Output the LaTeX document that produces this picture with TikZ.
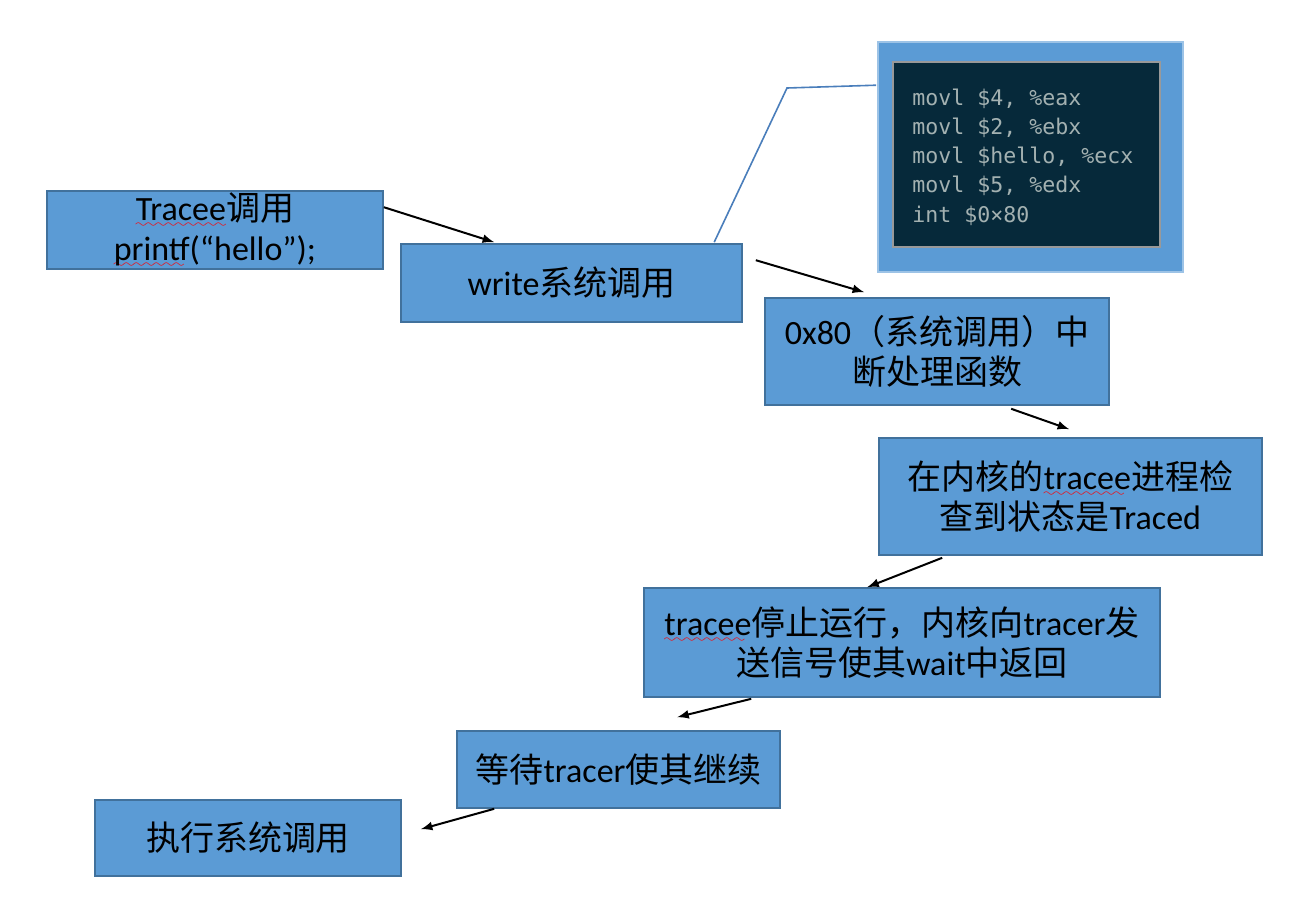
\documentclass[tikz,border=0pt]{standalone}
\usepackage{fontspec}
\setmainfont{Carlito}
\newfontfamily\cjk{Noto Sans CJK SC}
\newfontfamily\codefont{DejaVu Sans Mono}
\usetikzlibrary{arrows,calc}
\definecolor{boxblue}{HTML}{5B9BD5}
\definecolor{boxline}{HTML}{41719C}
\definecolor{termbg}{HTML}{06293A}
\definecolor{termfg}{HTML}{A3B1B1}
\definecolor{calloutline}{HTML}{4A7EBB}
\font\wavefont=lasy6
\newcommand\squig[1]{\setbox0\hbox{#1}\leavevmode\rlap{\lower3.5pt\hbox to\wd0{\color{red}\leaders\hbox{\wavefont\char58}\hfil}}\box0}
\tikzset{
  stepbox/.style={draw=boxline, line width=0.8pt, fill=boxblue, rectangle, align=center, inner sep=0pt, font=\fontsize{17}{20}\selectfont},
  flow/.style={->, >=latex, line width=1pt}
}

\begin{document}
\begin{tikzpicture}[x=0.5pt, y=-0.5pt]
    \useasboundingbox (0,0) rectangle (1292,906);
    % terminal panel with the assembly
    \node[draw=boxblue!60!white, line width=0.8pt, fill=boxblue, minimum width=152.5pt, minimum height=115pt] (asm) at (1030.5,157) {};
    \node[draw=gray!80, line width=0.8pt, fill=termbg, minimum width=133.5pt, minimum height=92.5pt] (term) at (1026.5,154.5) {};
    \node[anchor=west, align=left, text=termfg, inner sep=0pt, font=\codefont\fontsize{10.8}{14.65}\selectfont] (code) at (912,157) {movl \$4, \%eax\\ movl \$2, \%ebx\\ movl \$hello, \%ecx\\ movl \$5, \%edx\\ int \$0×80};

    % steps
    \node[stepbox, minimum width=168pt, minimum height=39pt] (tracee) at (215,230) {\squig{Tracee}{\cjk 调用}\\ \squig{printf}(“hello”);};
    \node[stepbox, minimum width=170.5pt, minimum height=39pt] (write) at (571.5,283) {write{\cjk 系统调用}};
    \node[stepbox, minimum width=172pt, minimum height=53.5pt] (handler) at (937,351.5) {0x80{\cjk （系统调用）中}\\ {\cjk 断处理函数}};
    \node[stepbox, minimum width=191.5pt, minimum height=58.5pt] (check) at (1070.5,496.5) {{\cjk 在内核的}\squig{tracee}{\cjk 进程检}\\ {\cjk 查到状态是}Traced};
    \node[stepbox, minimum width=258pt, minimum height=54.5pt] (stop) at (902,642.5) {\squig{tracee}{\cjk 停止运行，内核向}tracer{\cjk 发}\\ {\cjk 送信号使其}wait{\cjk 中返回}};
    \node[stepbox, minimum width=161.5pt, minimum height=38.5pt] (wait) at (618.5,769.5) {{\cjk 等待}tracer{\cjk 使其继续}};
    \node[stepbox, minimum width=153pt, minimum height=38pt] (exec) at (248,838) {{\cjk 执行系统调用}};

    % callout from the write box to the panel
    \coordinate (bend) at (787,88);
    \draw[calloutline, line width=0.8pt] ($(write.north west)+(314,-1)$) -- (bend) -- ($(asm.north west)+(-1,44)$);

    \draw[flow] ($(tracee.north east)+(0,17)$) -- ($(write.north west)+(94,-1)$);
    \draw[flow] ($(write.north east)+(13,17)$) -- ($(handler.north west)+(100,-5)$);
    \draw[flow] ($(handler.south west)+(247,3)$) -- ($(check.north west)+(191,-8)$);
    \draw[flow] ($(check.south west)+(64,2)$) -- ($(stop.north west)+(224,0)$);
    \draw[flow] ($(stop.south west)+(108,1)$) -- ($(wait.north west)+(221,-13)$);
    \draw[flow] ($(wait.south west)+(38,0)$) -- ($(exec.north east)+(19,30)$);
\end{tikzpicture}
\end{document}
